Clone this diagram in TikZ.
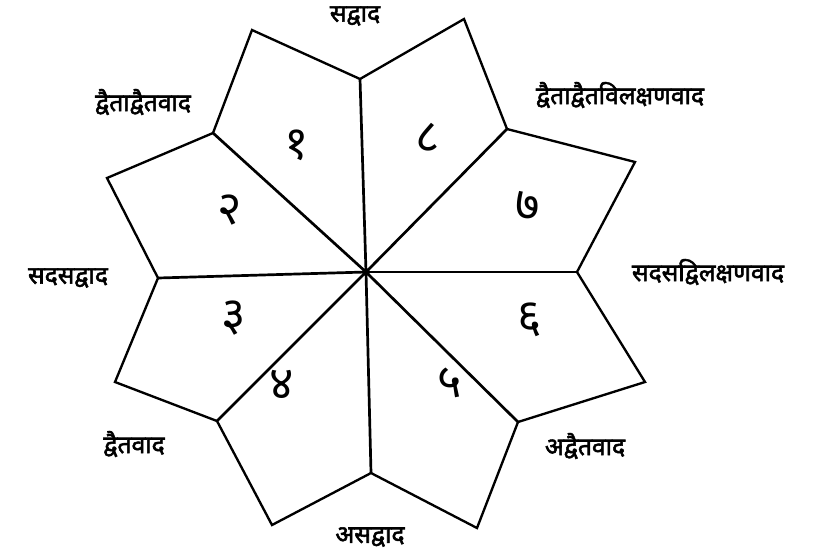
\documentclass[tikz,border=0pt]{standalone}
\usepackage{fontspec}
\newfontfamily\deva[Script=Devanagari]{Noto Sans}
\newfontfamily\devabold[Script=Devanagari, FakeBold=2.2]{Noto Sans}
\usetikzlibrary{positioning}

\begin{document}
\begin{tikzpicture}[
  x=0.03cm, y=-0.03cm,
  edge/.style = {line width=2pt, line join=miter, black},
  ray/.style  = {line width=2.3pt, black},
  lbl/.style  = {font=\devabold\fontsize{21}{24}\selectfont, inner sep=0pt},
  num/.style  = {font=\deva\fontsize{40}{44}\selectfont, inner sep=0pt}
]
\useasboundingbox (0,0) rectangle (823,549);

% centre, inner notches and outer tips
\coordinate (c)  at (366,272);
\coordinate (nT)  at (360,79);
\coordinate (nTR) at (507,129);
\coordinate (nR)  at (577,272);
\coordinate (nBR) at (518,422);
\coordinate (nB)  at (371,473);
\coordinate (nBL) at (217,421);
\coordinate (nL)  at (158,278);
\coordinate (nTL) at (213,133);
\coordinate (tA) at (464,19);
\coordinate (tB) at (635,162);
\coordinate (tC) at (645,382);
\coordinate (tD) at (477,528);
\coordinate (tE) at (272,525);
\coordinate (tF) at (115,382);
\coordinate (tG) at (107,178);
\coordinate (tH) at (252,30);

% outline of the star
\draw[edge] (nT) -- (tA) -- (nTR) -- (tB) -- (nR) -- (tC) -- (nBR) -- (tD)
  -- (nB) -- (tE) -- (nBL) -- (tF) -- (nL) -- (tG) -- (nTL) -- (tH) -- cycle;

% rays
\draw[ray] (c) -- (nT);
\draw[ray] (c) -- (nTR);
\draw[ray] (c) -- (nR);
\draw[ray] (c) -- (nBR);
\draw[ray] (c) -- (nB);
\draw[ray] (c) -- (nBL);
\draw[ray] (c) -- (nL);
\draw[ray] (c) -- (nTL);
\fill (c) circle (4);

% numbers
\node[num] (k1) at (297,145) {१};
\node[num] (k2) at (230,210) {२};
\node[num] (k3) at (234,318) {३};
\node[num] (k4) at (282,385) {४};
\node[num] (k5) at (450,383) {५};
\node[num] (k6) at (530,320) {६};
\node[num] (k7) at (528,206) {७};
\node[num] (k8) at (428,138) {८};

% labels
\node[lbl] (sad)     at (355,16)  {सद्वाद};
\node[lbl] (dvaidva) at (143,102) {द्वैताद्वैतवाद};
\node[lbl] (dvavil)  at (620,95)  {द्वैताद्वैतविलक्षणवाद};
\node[lbl] (sadasad) at (68,278)  {सदसद्वाद};
\node[lbl] (sadvil)  at (708,272) {सदसद्विलक्षणवाद};
\node[lbl] (dvaita)  at (134,444) {द्वैतवाद};
\node[lbl] (advaita) at (585,446) {अद्वैतवाद};
\node[lbl] (asad)    at (370,537) {असद्वाद};
\end{tikzpicture}
\end{document}
